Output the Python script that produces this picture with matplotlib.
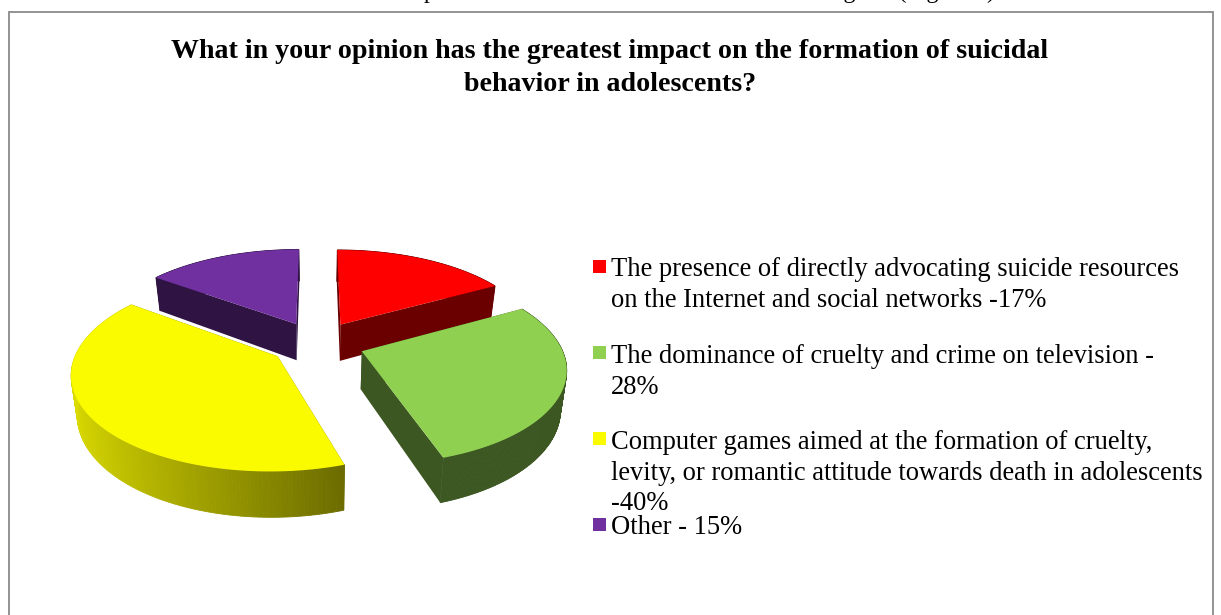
import numpy as np
import matplotlib
matplotlib.use('Agg')
import matplotlib.pyplot as plt
from matplotlib.patches import Polygon, Rectangle
from matplotlib.colors import to_rgb

plt.rcParams['font.family'] = ['Liberation Serif', 'DejaVu Serif']

labels = ['The presence of directly advocating suicide resources\non the Internet and social networks -17%',
          'The dominance of cruelty and crime on television -\n28%',
          'Computer games aimed at the formation of cruelty,\nlevity, or romantic attitude towards death in adolescents\n-40%',
          'Other - 15%']
values = [17, 28, 40, 15]
colors = ['#ff0000', '#8fd050', '#fbfb00', '#7030a0']
title = 'What in your opinion has the greatest impact on the formation of suicidal\nbehavior in adolescents?'
top_text = 'presented to the students is shown in the diagram (Figure 1).'

W, H = 1221, 615
fig = plt.figure(figsize=(W / 100, H / 100), dpi=100)
ax = fig.add_axes([0, 0, 1, 1])
ax.set_xlim(0, W)
ax.set_ylim(H, 0)
ax.axis('off')

ax.add_patch(Rectangle((8.5, 11.5), 1204, 640, fc='white', ec='#8a8a8a', lw=1.3))
ax.text(1001, -2, top_text, ha='right', va='baseline', fontsize=17.2, color='black')
ax.text(610, 68, title, ha='center', va='center', fontsize=20.2, weight='bold', linespacing=1.42)

# pie geometry, a flat pie seen in perspective from above
cx, cy = 317, 343
A, B = 198, 92
k = 0.16
explode = 0.24
depth = 37.5
total = sum(values)


def project(x, y, z=0.0):
    s = 1 / (1 + k * y)
    taper = 1 - 0.025 * (z > 0)
    return cx + A * x * s * taper, cy - B * y * s + z * s


angles = np.cumsum([0] + values) / total * 2 * np.pi


def shaded(c, f):
    return tuple(np.array(to_rgb(c)) * f)


slices = []
for i in range(len(values)):
    a0, a1 = angles[i], angles[i + 1]
    mid = (a0 + a1) / 2
    slices.append((i, a0, a1, explode * np.sin(mid), explode * np.cos(mid)))

# back slices first
for i, a0, a1, ox, oy in sorted(slices, key=lambda s: -s[4]):
    ts = np.linspace(a0, a1, 160)
    xs, ys = ox + np.sin(ts), oy + np.cos(ts)
    tip = project(ox, oy)
    tip_low = project(ox, oy, depth)
    wall_col = shaded(colors[i], 0.42)
    # cut faces
    for a in (a0, a1):
        ex, ey = ox + np.sin(a), oy + np.cos(a)
        face = [tip, project(ex, ey), project(ex, ey, depth), tip_low]
        ax.add_patch(Polygon(face, fc=wall_col, ec='none', zorder=2))
    # outer rim, the yellow one fades from left to right
    for j in range(len(ts) - 1):
        if i == 2:
            f = 0.88 - 0.45 * (xs[j] - xs.min()) / (xs.max() - xs.min())
        else:
            f = 0.42
        quad = [project(xs[j], ys[j]), project(xs[j + 1], ys[j + 1]),
                project(xs[j + 1], ys[j + 1], depth), project(xs[j], ys[j], depth)]
        c = shaded(colors[i], f)
        ax.add_patch(Polygon(quad, fc=c, ec=c, lw=0.6, zorder=3))
    top = [tip] + [project(x, y) for x, y in zip(xs, ys)]
    ax.add_patch(Polygon(top, fc=colors[i], ec='none', zorder=4))

# legend
legend_y = [285, 372, 473, 527]
square_y = [267, 353, 439, 525]
for lab, c, y, sy in zip(labels, colors, legend_y, square_y):
    ax.add_patch(Rectangle((593, sy - 7), 13, 13, fc=c, ec='none', zorder=5))
    ax.text(611, y, lab, ha='left', va='center', fontsize=19.1, linespacing=1.31)

fig.savefig('out.png', dpi=100)
